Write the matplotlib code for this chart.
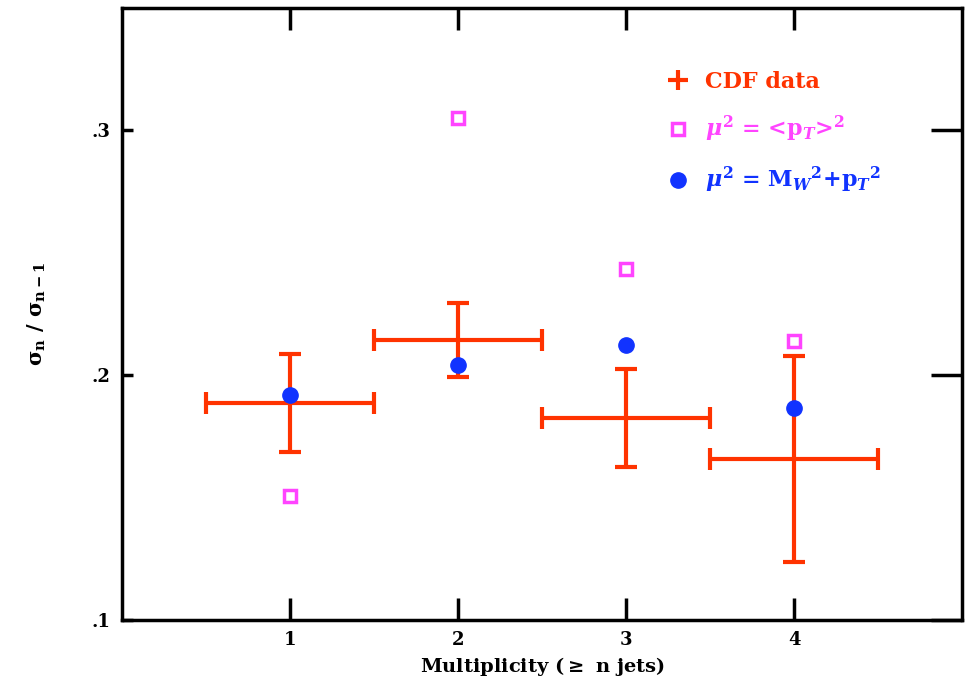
import matplotlib
matplotlib.use("Agg")
import matplotlib.pyplot as plt
from matplotlib.lines import Line2D

plt.rcParams['font.family'] = ['DejaVu Serif']
plt.rcParams['font.weight'] = 'bold'
plt.rcParams['mathtext.fontset'] = 'dejavuserif'

# multiplicity bins
n_jets = [1, 2, 3, 4]
x_err = [0.5, 0.5, 0.5, 0.5]

# CDF measured ratio and errors
cdf_ratio = [0.1886, 0.2143, 0.1824, 0.1657]
cdf_err = [0.020, 0.015, 0.020, 0.042]

# theory, mu^2 = <pT>^2
mu_pt = [0.1506, 0.3049, 0.2433, 0.2139]
# theory, mu^2 = MW^2 + pT^2
mu_mw = [0.1918, 0.2041, 0.2122, 0.1865]

red = '#ff3300'
magenta = '#ff44ff'
blue = '#1133ff'

fig = plt.figure(figsize=(9.65, 6.83), dpi=100)
ax = fig.add_axes([0.1264, 0.0922, 0.8705, 0.8961])

ax.errorbar(n_jets, cdf_ratio, xerr=x_err, yerr=cdf_err, fmt='none',
            ecolor=red, elinewidth=3, capsize=8, capthick=3, zorder=2)
ax.plot(n_jets, mu_pt, 's', ms=8, mfc='white', mec=magenta, mew=2.5,
        ls='none', zorder=3)
ax.plot(n_jets, mu_mw, 'o', ms=11, color=blue, ls='none', zorder=4)

ax.set_xlim(0, 5)
ax.set_ylim(0.1, 0.35)
ax.set_xticks([1, 2, 3, 4])
ax.set_xticklabels(['1', '2', '3', '4'])
ax.set_yticks([0.1, 0.2, 0.3])
ax.set_yticklabels(['.1', '.2', '.3'])
ax.tick_params(direction='in', width=2.5, labelsize=13,
               top=True, right=True, pad=8)
ax.tick_params(axis='x', length=16)
ax.tick_params(axis='y', which='major', left=True, length=8)
for t in ax.yaxis.get_major_ticks():
    t.tick2line.set_markersize(22)
for sp in ax.spines.values():
    sp.set_linewidth(2.5)

ax.set_xlabel(r'Multiplicity ($\geq$ n jets)', fontsize=14, fontweight='bold', labelpad=4)
ax.set_ylabel(r'$\mathbf{\sigma_n\ /\ \sigma_{n-1}}$', fontsize=15, labelpad=32)

handles = [
    Line2D([], [], marker='+', ms=14, mew=3, color=red, ls='none'),
    Line2D([], [], marker='s', ms=8, mfc='white', mec=magenta, mew=2.5, ls='none'),
    Line2D([], [], marker='o', ms=11, color=blue, ls='none'),
]
labels = ['CDF data',
          r'$\mu^2$ = <p$_T$>$^2$',
          r'$\mu^2$ = M$_W$$^2$+p$_T$$^2$']
leg = ax.legend(handles, labels, loc='upper left', bbox_to_anchor=(0.625, 0.93),
                frameon=False, fontsize=16, handletextpad=0.7, labelspacing=0.95,
                handlelength=1.0)
for txt, c in zip(leg.get_texts(), [red, magenta, blue]):
    txt.set_color(c)
    txt.set_fontweight('bold')

fig.savefig('out.png', dpi=100)
